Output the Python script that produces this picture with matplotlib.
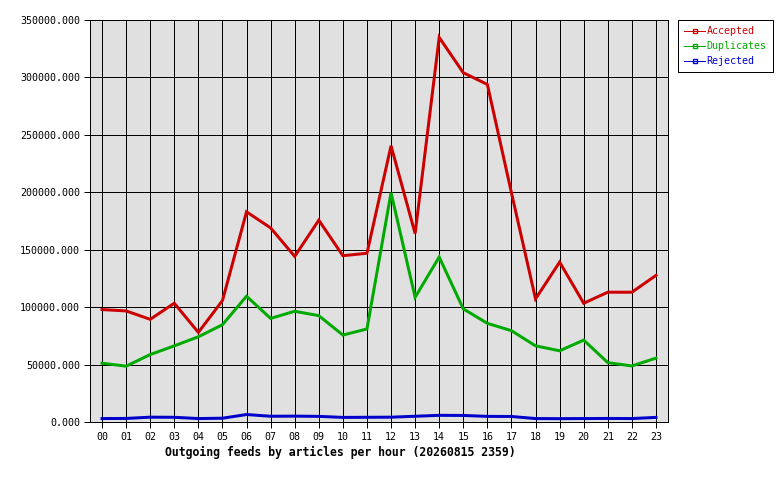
import matplotlib
matplotlib.use('Agg')
import matplotlib.pyplot as plt
from matplotlib.lines import Line2D

# hours of day
hours = ['00', '01', '02', '03', '04', '05', '06', '07', '08', '09', '10', '11',
         '12', '13', '14', '15', '16', '17', '18', '19', '20', '21', '22', '23']

# articles per hour
accepted = [97900, 96700, 89400, 103400, 78000, 105700, 183000, 169000, 144200, 175700, 144800, 146900,
            240500, 164100, 334800, 304100, 293900, 199500, 107200, 139200, 103400, 113000, 113000, 127600]
duplicates = [51200, 48600, 58700, 66300, 74200, 84700, 109500, 90200, 96400, 92600, 75700, 81000,
              199600, 108600, 143600, 98500, 85900, 79500, 66300, 62000, 71300, 51700, 48800, 55600]
rejected = [3000, 3100, 4200, 4100, 3000, 3300, 6500, 5000, 5100, 4900, 4000, 4100,
            4200, 5000, 5800, 5700, 4900, 4800, 3000, 2900, 3000, 3100, 3000, 4000]

series_names = ['Accepted', 'Duplicates', 'Rejected']
series_colors = ['#cc0000', '#00aa00', '#0000cc']
y_ticks = [0, 50000, 100000, 150000, 200000, 250000, 300000, 350000]

mono = 'DejaVu Sans Mono'
px = 0.72  # one pixel in points at dpi 100

fig = plt.figure(figsize=(7.8, 4.8), dpi=100)
ax = fig.add_axes([90 / 780, 58 / 480, 578 / 780, 402 / 480])
ax.set_facecolor('#e0e0e0')

x = list(range(len(hours)))
for vals, c in zip([accepted, duplicates, rejected], series_colors):
    ax.plot(x, vals, color=c, lw=3 * px, solid_joinstyle='miter', zorder=3)

ax.set_xlim(-0.5, 23.5)
ax.set_ylim(0, 350000)
ax.set_xticks(x)
ax.set_xticklabels(hours, family=mono, fontsize=7.2)
ax.set_yticks(y_ticks)
ax.set_yticklabels(['%.3f' % v for v in y_ticks], family=mono, fontsize=7.2)
ax.tick_params(direction='out', length=4, width=px, color='black', pad=3)
ax.grid(True, color='black', lw=px)
ax.set_axisbelow(True)
for s in ax.spines.values():
    s.set_linewidth(px)

fig.text(165 / 780, 1 - 452 / 480, 'Outgoing feeds by articles per hour (20260815 2359)',
         family=mono, fontsize=8.3, fontweight='bold', va='center', ha='left')

handles = [Line2D([0], [0], color=c, lw=px, marker='s', markersize=3,
                  markerfacecolor='none', markeredgecolor=c) for c in series_colors]
leg = fig.legend(handles, series_names, loc='upper left', bbox_to_anchor=(678 / 780, 1 - 20 / 480),
                 frameon=True, fancybox=False, edgecolor='black', framealpha=1,
                 prop={'family': mono, 'size': 7.2}, handlelength=2.1, handletextpad=0.15,
                 borderpad=0.6, labelspacing=0.5, borderaxespad=0, numpoints=1)
leg.get_frame().set_linewidth(px)
for t, c in zip(leg.get_texts(), series_colors):
    t.set_color(c)

fig.savefig('out.png', dpi=100)
